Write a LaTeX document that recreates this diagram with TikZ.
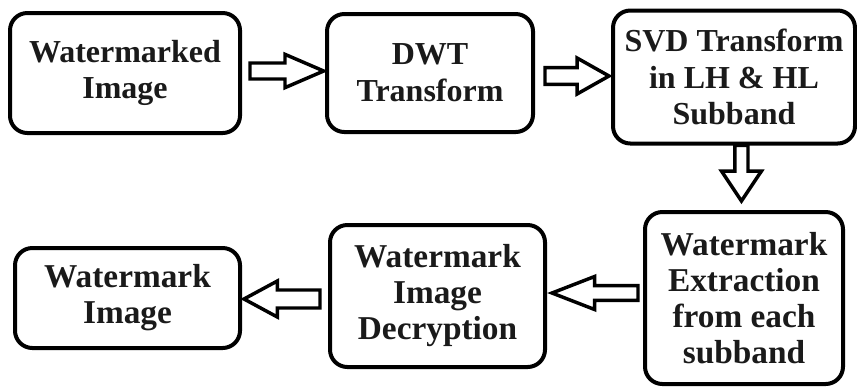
\documentclass[tikz,border=0pt]{standalone}
\usepackage{fontspec}
\setmainfont{Liberation Serif}
\usetikzlibrary{calc}
\definecolor{ink}{HTML}{1A1A1A}
\tikzset{
  stepbox/.style={draw=black, line width=3pt, rounded corners=13pt, align=center,
    inner sep=0pt, text=ink, font=\fontsize{24}{27.5}\selectfont\bfseries},
  lowbox/.style={stepbox, font=\fontsize{25}{27}\selectfont\bfseries},
  blockarrow/.style={draw=black, line width=2.6pt, fill=white, line join=miter},
}
% horizontal block arrow: tail, tip, shaft half, head half, head length
\newcommand{\harrow}[5]{%
  \draw[blockarrow] let \p1=(#1), \p2=(#2), \p3=($(#2)!#5!(#1)$) in
    (\x1,\y1+#3) -- (\x3,\y1+#3) -- (\x3,\y1+#4) -- (\x2,\y1) --
    (\x3,\y1-#4) -- (\x3,\y1-#3) -- (\x1,\y1-#3) -- cycle;}
% vertical block arrow
\newcommand{\varrow}[5]{%
  \draw[blockarrow] let \p1=(#1), \p2=(#2), \p3=($(#2)!#5!(#1)$) in
    (\x1+#3,\y1) -- (\x1+#3,\y3) -- (\x1+#4,\y3) -- (\x1,\y2) --
    (\x1-#4,\y3) -- (\x1-#3,\y3) -- (\x1-#3,\y1) -- cycle;}
\begin{document}
\begin{tikzpicture}[x=0.75pt,y=-0.75pt]
\useasboundingbox (0,0) rectangle (857,387);
\node[stepbox, minimum width=172.5pt, minimum height=90pt] (b1) at (125,73) {Watermarked\\Image};
\node[stepbox, minimum width=154.5pt, minimum height=88.5pt] (b2) at (430,73) {DWT\\Transform};
\node[stepbox, minimum width=181.5pt, minimum height=99.75pt] (b3) at (734,77) {SVD Transform\\in LH \& HL\\Subband};
\node[lowbox, minimum width=148.5pt, minimum height=129pt] (b4) at (744,298) {Watermark\\Extraction\\from each\\subband};
\node[lowbox, minimum width=161.25pt, minimum height=106.5pt] (b5) at (437.5,296) {Watermark\\Image\\Decryption};
\node[lowbox, minimum width=168.75pt, minimum height=75pt] (b6) at (127.5,298) {Watermark\\Image};

\coordinate (a1s) at ($(b1.east)+(6pt,1.5pt)$);
\coordinate (a1e) at ($(b2.west)+(-1pt,1.5pt)$);
\harrow{a1s}{a1e}{6pt}{12.5pt}{29pt}

\coordinate (a2s) at ($(b2.east)+(7.5pt,-2.25pt)$);
\coordinate (a2e) at ($(b3.west)+(-1.5pt,-2.25pt)$);
\harrow{a2s}{a2e}{6.3pt}{13.5pt}{24pt}

\coordinate (a3s) at ($(b3.south)+(5.6pt,0)$);
\coordinate (a3e) at ($(b4.north)+(0,6.75pt)$);
\varrow{a3s}{a3e}{4.9pt}{15pt}{22.5pt}

\coordinate (a4s) at ($(b4.west)+(-3.75pt,3.75pt)$);
\coordinate (a4e) at ($(b5.east)+(3.75pt,3.75pt)$);
\harrow{a4s}{a4e}{5.6pt}{12.4pt}{32pt}

\coordinate (a5s) at ($(b5.west)+(-6pt,-2.25pt)$);
\coordinate (a5e) at ($(b6.east)+(1.5pt,-2.25pt)$);
\harrow{a5s}{a5e}{6.75pt}{13.5pt}{25pt}
\end{tikzpicture}
\end{document}
